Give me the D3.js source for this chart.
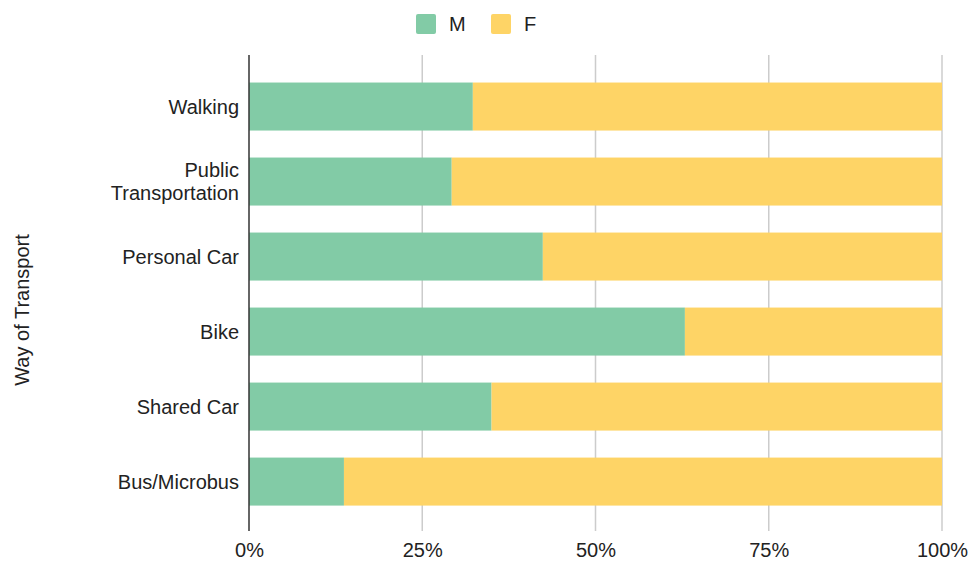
<!DOCTYPE html>
<html>
<head>
<meta charset="utf-8">
<script src="https://cdn.jsdelivr.net/npm/d3@7"></script>
<style>
  body { margin: 0; background: #fff; }
  svg { display: block; font-family: "Liberation Sans", Arial, sans-serif; }
</style>
</head>
<body>
<svg id="chart" width="972" height="563"></svg>
<script>
// Share of each gender (percent) by way of transport
const categories = ["Walking", "Public Transportation", "Personal Car", "Bike", "Shared Car", "Bus/Microbus"];
const categoryLines = [["Walking"], ["Public", "Transportation"], ["Personal Car"], ["Bike"], ["Shared Car"], ["Bus/Microbus"]];
const seriesNames = ["M", "F"];
const maleShare = [32.3, 29.25, 42.4, 62.9, 35.0, 13.7];
const femaleShare = maleShare.map(v => 100 - v);
const xTicks = [0, 25, 50, 75, 100];
const xTickLabels = ["0%", "25%", "50%", "75%", "100%"];
const colors = ["#82cba6", "#fed466"];

const svg = d3.select("#chart");
const plotTop = 55, plotBottom = 531;
const fontSize = 20;

const x = d3.scaleLinear().domain([0, 100]).range([249, 942]);
const y = d3.scaleBand().domain(categories).range([plotTop, plotBottom])
  .paddingInner(0.36).paddingOuter(0.353).align(0.52);

// Gridlines
svg.append("g").selectAll("line").data(xTicks.slice(1)).join("line")
  .attr("x1", d => x(d)).attr("x2", d => x(d))
  .attr("y1", plotTop).attr("y2", plotBottom)
  .attr("stroke", "#cccccc").attr("stroke-width", 1.5);

// Stacked bars
const rows = categories.map((c, i) => ({ cat: c, M: maleShare[i], F: femaleShare[i] }));
const stack = d3.stack().keys(seriesNames)(rows);
const color = d3.scaleOrdinal().domain(seriesNames).range(colors);

svg.append("g").selectAll("g").data(stack).join("g")
  .attr("fill", d => color(d.key))
  .selectAll("rect").data(d => d).join("rect")
  .attr("x", d => x(d[0]))
  .attr("width", d => x(d[1]) - x(d[0]))
  .attr("y", d => y(d.data.cat))
  .attr("height", y.bandwidth());

// Vertical axis line
svg.append("line")
  .attr("x1", x(0)).attr("x2", x(0))
  .attr("y1", plotTop).attr("y2", plotBottom)
  .attr("stroke", "#333").attr("stroke-width", 1.5);

// X tick labels
const xAxis = d3.axisBottom(x).tickValues(xTicks)
  .tickFormat((d, i) => xTickLabels[i]).tickSize(0).tickPadding(0);
const gx = svg.append("g").attr("transform", `translate(0, 543)`).call(xAxis);
gx.select(".domain").remove();
gx.selectAll("text").attr("font-size", fontSize).attr("fill", "#222")
  .attr("font-family", "Liberation Sans, Arial, sans-serif").attr("dy", "0.71em");

// Category labels
const lab = svg.append("g");
categories.forEach((c, i) => {
  const lines = categoryLines[i];
  const cy = y(c) + y.bandwidth() / 2;
  const lh = 23;
  const t = lab.append("text")
    .attr("text-anchor", "end").attr("font-size", fontSize).attr("fill", "#222");
  lines.forEach((ln, j) => {
    t.append("tspan").attr("x", 239)
      .attr("y", cy + (j - (lines.length - 1) / 2) * lh)
      .attr("dy", "0.35em").text(ln);
  });
});

// Axis title
svg.append("text")
  .attr("transform", `translate(22, 310) rotate(-90)`)
  .attr("text-anchor", "middle").attr("dy", "0.35em")
  .attr("font-size", fontSize).attr("fill", "#222")
  .text("Way of Transport");

// Legend
const legend = svg.append("g");
const legendX = [416, 491];
seriesNames.forEach((s, i) => {
  legend.append("rect").attr("x", legendX[i]).attr("y", 14)
    .attr("width", 20).attr("height", 20).attr("rx", 2)
    .attr("fill", colors[i]);
  legend.append("text").attr("x", legendX[i] + 33).attr("y", 24)
    .attr("dy", "0.35em").attr("font-size", fontSize).attr("fill", "#222").text(s);
});
</script>
</body>
</html>
